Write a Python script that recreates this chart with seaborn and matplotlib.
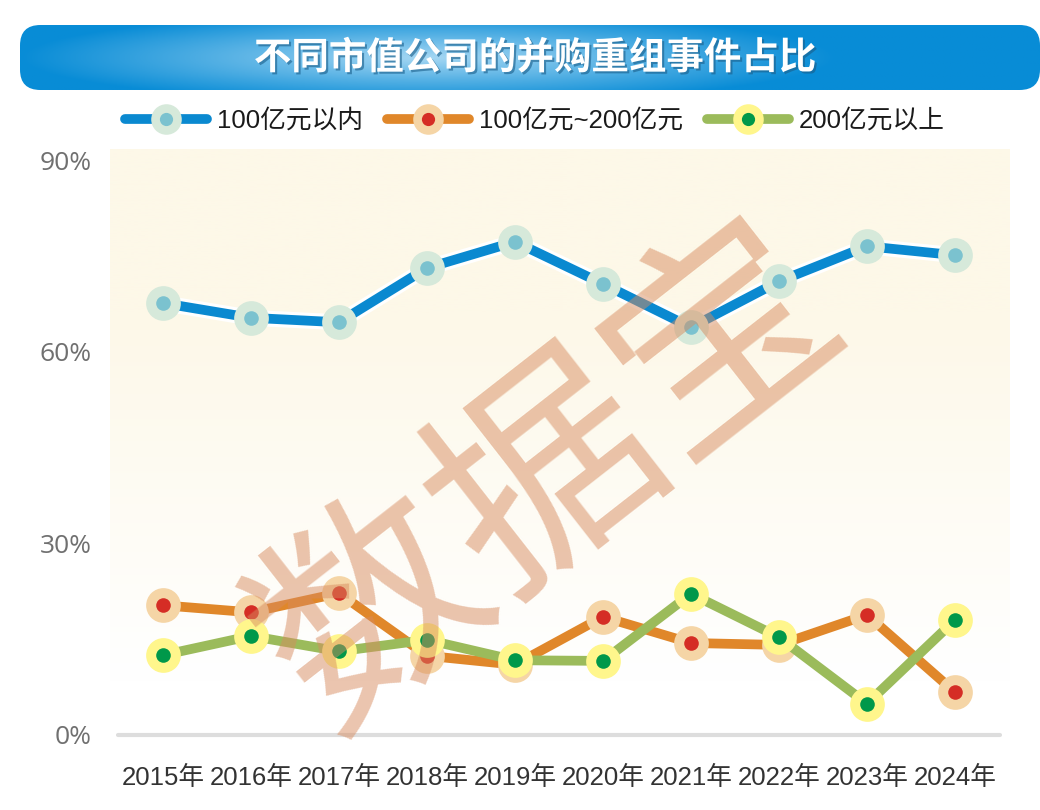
#!/usr/bin/env python3
"""Share of M&A events by market cap group, 2015-2024."""
import numpy as np
import pandas as pd
import matplotlib
matplotlib.use('Agg')
import matplotlib.pyplot as plt
import matplotlib.patheffects as pe
from matplotlib.lines import Line2D
from matplotlib.legend_handler import HandlerTuple
from matplotlib.patches import FancyBboxPatch
import seaborn as sns

years = ['2015年', '2016年', '2017年', '2018年', '2019年',
         '2020年', '2021年', '2022年', '2023年', '2024年']
small_cap = [67.6, 65.3, 64.6, 73.1, 77.2, 70.6, 63.8, 71.0, 76.5, 75.1]
mid_cap = [20.3, 19.2, 22.2, 12.4, 11.0, 18.5, 14.4, 14.1, 18.8, 6.7]
large_cap = [12.5, 15.5, 13.1, 14.9, 11.7, 11.6, 22.1, 15.3, 4.9, 18.0]
series_names = ['100亿元以内', '100亿元~200亿元', '200亿元以上']
y_ticks = [0, 30, 60, 90]
y_tick_labels = ['0%', '30%', '60%', '90%']

# line colour, outer ring, inner dot
styles = {
    '100亿元以内': ('#0A89D0', '#D6E9DA', '#7BC2CF'),
    '100亿元~200亿元': ('#E0872A', '#F5D5A6', '#D52D25'),
    '200亿元以上': ('#9BBB5B', '#FFF68C', '#00984A'),
}

df = pd.DataFrame({
    'year': years * 3,
    'x': list(range(len(years))) * 3,
    'share': small_cap + mid_cap + large_cap,
    'group': [series_names[0]] * 10 + [series_names[1]] * 10 + [series_names[2]] * 10,
})

sns.set_theme(style='white')
plt.rcParams['font.family'] = ['Liberation Sans', 'Noto Sans CJK SC', 'DejaVu Sans']

W, H = 1040, 810
fig = plt.figure(figsize=(W / 100, H / 100), dpi=100)
fig.patch.set_facecolor('white')


def fx(px):
    return px / W


def fy(py):
    return 1 - py / H


ax = fig.add_axes([fx(110), fy(735), fx(1010) - fx(110), fy(160) - fy(735)])
ax.set_facecolor('none')
ax.set_xlim(-(163 - 110) / 88, 9 + (1010 - 955) / 88)
ax.set_ylim(0, 90)

# cream gradient background
grad = np.linspace(1, 0, 256).reshape(-1, 1)
grad = np.clip(grad * 1.6 - 0.15, 0, 1)
bg = np.ones((256, 1, 4))
c_top = np.array([253, 248, 232]) / 255
for i in range(3):
    bg[:, 0, i] = 1 - (1 - c_top[i]) * grad[:, 0]
ax.imshow(bg, extent=[0, 1, 0, 1.018], transform=ax.transAxes, aspect='auto',
          zorder=0, clip_on=False)

ax.axhline(0, xmin=(118 - 110) / 900, xmax=(1000 - 110) / 900, color='#DDDDDD',
           lw=3, zorder=1, clip_on=False)

handles = []
for k, name in enumerate(series_names):
    lc, ring, dot = styles[name]
    sub = df[df['group'] == name]
    sns.lineplot(data=sub, x='x', y='share', ax=ax, color=lc, lw=7,
                 legend=False, zorder=3 + k)
    line = ax.lines[-1]
    if k == 0:
        line.set_path_effects([pe.Stroke(linewidth=11.5, foreground='white'), pe.Normal()])
    ax.plot(sub['x'], sub['share'], 'o', ms=25, color=ring, mec='none',
            zorder=3 + k, clip_on=False)
    ax.plot(sub['x'], sub['share'], 'o', ms=10.5, color=dot, mec='none',
            zorder=3 + k, clip_on=False)
    h_line = Line2D([], [], color=lc, lw=7)
    h_ring = Line2D([], [], ls='none', marker='o', ms=22, color=ring, mec='none')
    h_dot = Line2D([], [], ls='none', marker='o', ms=9.5, color=dot, mec='none')
    handles.append((h_line, h_ring, h_dot))

ax.set_xticks(range(len(years)))
ax.set_xticklabels(years, fontsize=18.5, color='#333333')
ax.set_yticks(y_ticks)
ax.set_yticklabels(y_tick_labels, fontsize=19, color='#707070',
                   family=['Open Sans', 'DejaVu Sans'])
ax.tick_params(axis='x', length=0, pad=22)
ax.tick_params(axis='y', length=0, pad=13)
ax.set_xlabel('')
ax.set_ylabel('')
ax.grid(False)
for s in ax.spines.values():
    s.set_visible(False)

# watermark
fig.text(fx(550), fy(478), '数据宝', fontsize=160, color='#D78B5F', alpha=0.5,
         rotation=38, ha='center', va='center', family=['Noto Sans CJK SC'],
         fontweight='light', zorder=10)

leg = fig.legend(handles, series_names, loc='center', bbox_to_anchor=(fx(535), fy(121)),
                 ncol=3, frameon=False, fontsize=18.5, handlelength=3.2,
                 handler_map={tuple: HandlerTuple(ndivide=1)},
                 columnspacing=0.9, handletextpad=0.4)
for t in leg.get_texts():
    t.set_color('#1a1a1a')

# title banner with radial gradient
banner = fig.add_axes([fx(20), fy(90), fx(1040) - fx(20), fy(25) - fy(90)])
banner.set_xlim(0, 1)
banner.set_ylim(0, 1)
banner.axis('off')
gx, gy = np.meshgrid(np.linspace(-1, 1, 400), np.linspace(-1, 1, 60))
r = np.clip(np.sqrt(((gx + 0.2) / 0.8) ** 2 + (gy / 1.4) ** 2), 0, 1)
c_in = np.array([165, 215, 243]) / 255
c_out = np.array([8, 140, 214]) / 255
img = c_in[None, None, :] * (1 - r[..., None]) + c_out[None, None, :] * r[..., None]
im = banner.imshow(img, extent=[0, 1, 0, 1], aspect='auto', zorder=1)
box = FancyBboxPatch((0, 0), 1, 1, boxstyle='round,pad=0,rounding_size=0.02',
                     transform=banner.transData, facecolor='none', edgecolor='none',
                     mutation_aspect=1020 / 65)
banner.add_patch(box)
im.set_clip_path(box)
banner.text(0.505, 0.5, '不同市值公司的并购重组事件占比', color='white', fontsize=27,
            fontweight='bold', ha='center', va='center', family=['Noto Sans CJK SC'],
            path_effects=[pe.withSimplePatchShadow(offset=(1.5, -1.5), shadow_rgbFace='#1a5e8a', alpha=0.6)],
            zorder=2)

fig.savefig('out.png', dpi=100, facecolor='white')
